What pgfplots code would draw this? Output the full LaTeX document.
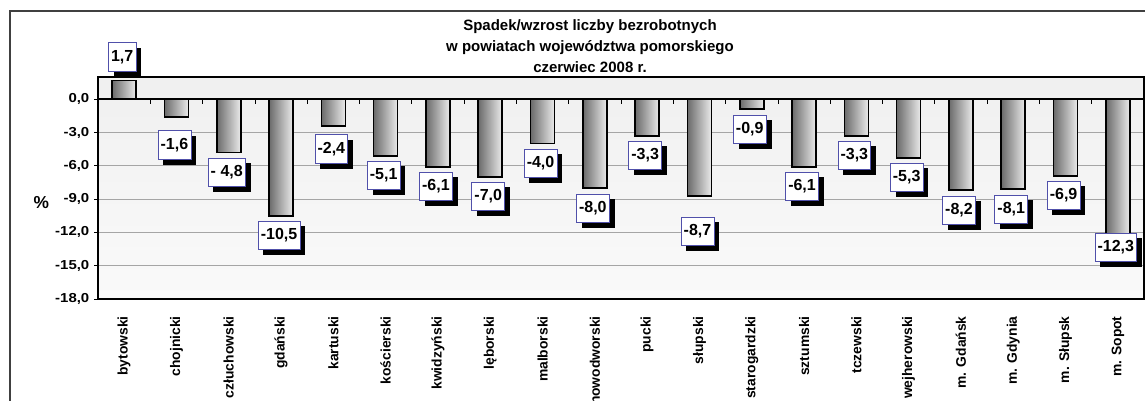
\documentclass[border=0pt]{standalone}
\usepackage{pgfplots}
\pgfplotsset{compat=1.18}
\usepackage{pgfplotstable}
\usepackage{graphicx}
\usepackage{fontspec}
\setmainfont{Liberation Sans}
\usetikzlibrary{shadows}
\definecolor{lblborder}{RGB}{80,80,170}
\definecolor{gridgray}{RGB}{165,165,165}
\newcommand\yl[1]{\scalebox{1.15}[1]{#1}}

\pgfplotstableread[col sep=semicolon,row sep=\\]{
i;v;ly;lab\\
0;1.7;3.83;1,7\\
1;-1.6;-4.14;-1,6\\
2;-4.8;-6.58;- 4,8\\
3;-10.5;-12.25;-10,5\\
4;-2.4;-4.50;-2,4\\
5;-5.1;-6.85;-5,1\\
6;-6.1;-7.84;-6,1\\
7;-7.0;-8.74;-7,0\\
8;-4.0;-5.77;-4,0\\
9;-8.0;-9.82;-8,0\\
10;-3.3;-5.05;-3,3\\
11;-8.7;-11.89;-8,7\\
12;-0.9;-2.70;-0,9\\
13;-6.1;-7.84;-6,1\\
14;-3.3;-5.05;-3,3\\
15;-5.3;-7.03;-5,3\\
16;-8.2;-10.0;-8,2\\
17;-8.1;-9.91;-8,1\\
18;-6.9;-8.65;-6,9\\
19;-12.3;-13.33;-12,3\\
}\data

\begin{document}
\begin{tikzpicture}
\begin{axis}[
  at={(73.5pt,-224.25pt)}, anchor=south west,
  scale only axis, width=784.5pt, height=166.5pt,
  xmin=-0.5, xmax=19.5, ymin=-18, ymax=2,
  ytick={-18,-15,-12,-9,-6,-3,0},
  yticklabels={\yl{-18,0},\yl{-15,0},\yl{-12,0},\yl{-9,0},\yl{-6,0},\yl{-3,0},\yl{0,0}},
  xtick={0,...,19},
  xticklabels={bytowski,chojnicki,człuchowski,gdański,kartuski,kościerski,kwidzyński,lęborski,malborski,nowodworski,pucki,słupski,starogardzki,sztumski,tczewski,wejherowski,m. Gdańsk,m. Gdynia,m. Słupsk,m. Sopot},
  x tick label style={rotate=90, anchor=east, font=\fontsize{10.4}{12}\selectfont\bfseries},
  xticklabel shift=6.5pt,
  y tick label style={font=\fontsize{9.75}{11}\selectfont\bfseries},
  yticklabel shift=0pt,
  xtick style={draw=none},
  ytick style={black, line width=0.6pt},
  tick align=outside, major tick length=3pt,
  ymajorgrids, grid style={gridgray, line width=0.6pt},
  axis line style={black, line width=1.3pt},
  axis background/.style={top color=black!6, bottom color=black!2},
  clip=false,
]
\draw[black, line width=1.2pt] (axis cs:-0.5,0) -- (axis cs:19.5,0);
\pgfplotsinvokeforeach{0.5,1.5,2.5,3.5,4.5,5.5,6.5,7.5,8.5,9.5,10.5,11.5,12.5,13.5,14.5,15.5,16.5,17.5,18.5}{\draw[black, line width=0.6pt] (axis cs:#1,0) -- ([yshift=-3.5pt]axis cs:#1,0);}
\pgfplotsinvokeforeach{0,...,19}{
\addplot[ybar, bar width=18pt, draw=black, line width=1.2pt, left color=black!58, right color=black!8, x filter/.expression={abs(x-#1)<0.1 ? x : nan}] table[x=i,y=v]{\data};
}
\addplot[draw=none, mark=none, nodes near coords, point meta=explicit symbolic,
  nodes near coords style={anchor=center, font=\fontsize{12}{13}\selectfont\bfseries, fill=white, draw=lblborder, line width=0.6pt, text height=8.6pt, text depth=1.8pt, inner xsep=2pt, inner ysep=5.5pt, xshift=-1.5pt, drop shadow={shadow xshift=4pt, shadow yshift=-4pt, fill=black, opacity=1}}]
  table[x=i,y=ly,meta=lab]{\data};
\end{axis}
\node[font=\fontsize{11.25}{15.75}\selectfont\bfseries, align=center] at (442.5pt,-34.5pt) {Spadek/wzrost liczby bezrobotnych\\w powiatach województwa pomorskiego\\czerwiec 2008 r.};
\node[font=\fontsize{13}{14}\selectfont\bfseries] at (31pt,-152pt) {\%};
\draw[black!75, line width=0.8pt] (7.5pt,-8.25pt) rectangle (880pt,-330pt);
\pgfresetboundingbox
\path[use as bounding box] (0pt,0pt) rectangle (858.75pt,-300pt);
\end{tikzpicture}
\end{document}
